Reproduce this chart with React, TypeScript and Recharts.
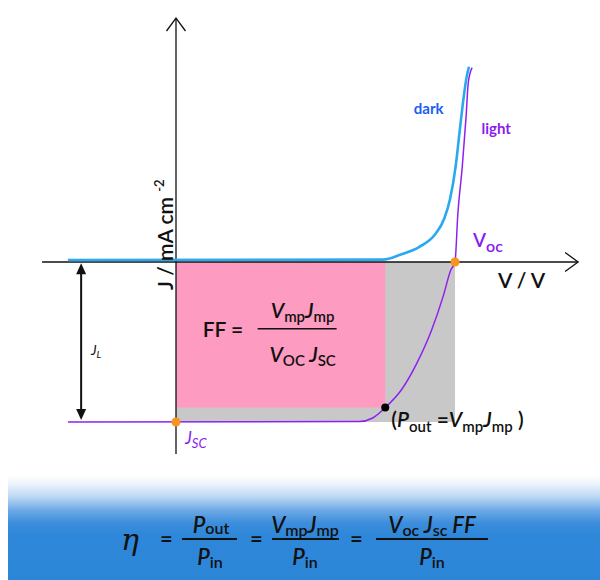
import React from "react";
import {
  ComposedChart,
  Line,
  XAxis,
  YAxis,
  ReferenceArea,
  ReferenceLine,
  ReferenceDot,
} from "recharts";

// J-V curves of the cell, V in volts, J in mA cm^-2
const darkV = [-0.31, 0.594, 0.643, 0.698, 0.742, 0.769, 0.786, 0.802, 0.813, 0.824, 0.832, 0.84];
const darkJ = [0.25, 0.3, 0.9, 1.9, 3.4, 5.4, 7.9, 12.0, 16.2, 20.3, 22.8, 24.4];

const lightV = [-0.31, 0.525, 0.564, 0.6, 0.646, 0.69, 0.733, 0.766, 0.788, 0.8, 0.808, 0.821, 0.832, 0.838, 0.849];
const lightJ = [-20, -19.95, -19.5, -18.2, -16.0, -12.7, -8.5, -4.3, -1.0, 0, 5.9, 12.0, 18.3, 22.4, 24.3];

// key points
const VOC = 0.8;
const JSC = -20;
const VMP = 0.6;
const JMP = -18.2;

const darkData = darkV.map((v, i) => ({ v, j: darkJ[i] }));
const lightData = lightV.map((v, i) => ({ v, j: lightJ[i] }));

const FONT = "Lato, 'Open Sans', sans-serif";
const INK = "#111";
const PURPLE = "#8a1cf0";

const axisArrow = (p: any) => {
  const { x1, y1, x2, y2 } = p;
  const len = Math.hypot(x2 - x1, y2 - y1);
  const ux = (x2 - x1) / len;
  const uy = (y2 - y1) / len;
  const bx = x2 - ux * 13;
  const by = y2 - uy * 13;
  return (
    <g>
      <line x1={x1} y1={y1} x2={x2} y2={y2} stroke={INK} strokeWidth={1.3} />
      <polyline
        points={`${bx - uy * 9.5},${by + ux * 9.5} ${x2},${y2} ${bx + uy * 9.5},${by - ux * 9.5}`}
        fill="none"
        stroke={INK}
        strokeWidth={1.3}
      />
    </g>
  );
};

const doubleArrow = (p: any) => {
  const { x1, y1, x2, y2 } = p;
  const top = Math.min(y1, y2);
  const bot = Math.max(y1, y2);
  return (
    <g fill={INK}>
      <line x1={x1} y1={top + 8} x2={x2} y2={bot - 8} stroke={INK} strokeWidth={2} />
      <polygon points={`${x1},${top} ${x1 - 5},${top + 11} ${x1 + 5},${top + 11}`} />
      <polygon points={`${x2},${bot} ${x2 - 5},${bot - 11} ${x2 + 5},${bot - 11}`} />
    </g>
  );
};

// pieces of a formula: [text, isSubscript, isItalic]
type Piece = [string, boolean, boolean];
function pieces(list: Piece[], subSize: number, drop: number) {
  let cur = 0;
  return list.map(([t, sub, it], k) => {
    const target = sub ? drop : 0;
    const dy = target - cur;
    cur = target;
    return (
      <tspan
        key={k}
        dy={dy || undefined}
        fontSize={sub ? subSize : undefined}
        fontStyle={it ? "italic" : undefined}
      >
        {t}
      </tspan>
    );
  });
}

function Chart() {
  return (
    <ComposedChart
      width={600}
      height={580}
      margin={{ top: 6, right: 5.5, bottom: 14, left: 1.625 }}
    >
      <XAxis type="number" dataKey="v" domain={[-0.5, 1.2]} allowDataOverflow hide />
      <YAxis type="number" domain={[-38, 32]} allowDataOverflow hide />

      <ReferenceArea x1={0} x2={VOC} y1={JSC} y2={0} fill="#c8c8c8" fillOpacity={1} stroke="none" />
      <ReferenceArea x1={0} x2={VMP} y1={JMP} y2={0} fill="#fe9bc0" fillOpacity={1} stroke="none" />

      <ReferenceLine segment={[{ x: -0.384, y: 0 }, { x: 1.153, y: 0 }]} ifOverflow="visible" shape={axisArrow} />
      <ReferenceLine segment={[{ x: 0, y: -24 }, { x: 0, y: 30.5 }]} ifOverflow="visible" shape={axisArrow} />
      <ReferenceLine segment={[{ x: -0.272, y: -0.15 }, { x: -0.272, y: -19.75 }]} ifOverflow="visible" shape={doubleArrow} />

      <Line data={darkData} dataKey="j" type="monotone" stroke="#2aa8f0" strokeWidth={2.6} dot={false} isAnimationActive={false} />
      <Line data={lightData} dataKey="j" type="monotone" stroke="#8d22ee" strokeWidth={1.5} dot={false} isAnimationActive={false} />

      <ReferenceDot x={0} y={JSC} r={4.5} fill="#f7931e" stroke="none" ifOverflow="visible" />
      <ReferenceDot x={VOC} y={0} r={4.5} fill="#f7931e" stroke="none" ifOverflow="visible" />
      <ReferenceDot x={VMP} y={JMP} r={4} fill="#000" stroke="none" ifOverflow="visible" />

      {/* FF formula in the centre of the pink box */}
      <ReferenceDot
        x={VMP / 2}
        y={JMP / 2}
        r={0}
        shape={(p: any) => (
          <g fontFamily={FONT} fill={INK} fontWeight={600}>
            <text x={p.cx - 78} y={p.cy + 2} fontSize={21}>FF =</text>
            <line x1={p.cx - 23} x2={p.cx + 56} y1={p.cy - 6} y2={p.cy - 6} stroke={INK} strokeWidth={1.6} />
            <text x={p.cx + 22} y={p.cy - 17} fontSize={21} textAnchor="middle">
              {pieces([["V", false, true], ["mp", true, false], ["J", false, true], ["mp", true, false]], 15, 4)}
            </text>
            <text x={p.cx + 22} y={p.cy + 27} fontSize={21} textAnchor="middle">
              {pieces([["V", false, true], ["OC", true, false], [" J", false, true], ["SC", true, false]], 15, 4)}
            </text>
          </g>
        )}
      />

      {/* labels */}
      <ReferenceDot
        x={0.682}
        y={18.5}
        r={0}
        shape={(p: any) => (
          <text x={p.cx} y={p.cy} fontFamily={FONT} fontSize={15} fontWeight={700} fill="#1c5ef2">dark</text>
        )}
      />
      <ReferenceDot
        x={0.876}
        y={16}
        r={0}
        shape={(p: any) => (
          <text x={p.cx} y={p.cy} fontFamily={FONT} fontSize={15} fontWeight={700} fill={PURPLE}>light</text>
        )}
      />
      <ReferenceDot
        x={VOC}
        y={0}
        r={0}
        shape={(p: any) => (
          <text x={p.cx + 18} y={p.cy - 15} fontFamily={FONT} fontSize={19} fontWeight={600} fill={PURPLE}>
            {pieces([["V", false, false], ["oc", true, false]], 16, 5)}
          </text>
        )}
      />
      <ReferenceDot
        x={0.923}
        y={-3.25}
        r={0}
        shape={(p: any) => (
          <text x={p.cx} y={p.cy} fontFamily={FONT} fontSize={21} fontWeight={600} fill={INK}>V / V</text>
        )}
      />
      <ReferenceDot
        x={-0.008}
        y={-3.5}
        r={0}
        ifOverflow="visible"
        shape={(p: any) => (
          <text
            x={p.cx}
            y={p.cy}
            transform={`rotate(-90, ${p.cx}, ${p.cy})`}
            fontFamily={FONT}
            fontSize={21}
            fontWeight={600}
            fill={INK}
          >
            {pieces([["J / mA cm ", false, false], ["-2", true, false]], 13, -9)}
          </text>
        )}
      />
      <ReferenceDot
        x={-0.244}
        y={-11.6}
        r={0}
        shape={(p: any) => (
          <text x={p.cx} y={p.cy} fontFamily={FONT} fontSize={14} fontStyle="italic" fill={INK}>
            {pieces([["J", false, true], ["L", true, true]], 10, 3)}
          </text>
        )}
      />
      <ReferenceDot
        x={0}
        y={JSC}
        r={0}
        shape={(p: any) => (
          <text x={p.cx + 9} y={p.cy + 22} fontFamily={FONT} fontSize={17} fontStyle="italic" fill={PURPLE}>
            {pieces([["J", false, true], ["SC", true, true]], 13, 4)}
          </text>
        )}
      />
      <ReferenceDot
        x={VMP}
        y={JMP}
        r={0}
        shape={(p: any) => (
          <text x={p.cx + 6} y={p.cy + 19} fontFamily={FONT} fontSize={21} fontWeight={600} fill={INK}>
            {pieces(
              [
                ["(", false, false],
                ["P", false, true],
                ["out", true, false],
                [" =", false, false],
                ["V", false, true],
                ["mp", true, false],
                ["J", false, true],
                ["mp", true, false],
                [" )", false, false],
              ],
              15,
              5
            )}
          </text>
        )}
      />
    </ComposedChart>
  );
}

function Efficiency() {
  const num = 57;
  const den = 89;
  const bar = 63;
  const eq = 71;
  return (
    <svg width={600} height={104} style={{ position: "absolute", left: 0, top: 476 }}>
      <g fontFamily={FONT} fontWeight={600} fill={INK} fontSize={22}>
        <text x={121} y={74} fontFamily="'DejaVu Serif', serif" fontStyle="italic" fontSize={30} fontWeight={400}>η</text>
        <text x={160} y={eq}>=</text>
        <line x1={182} x2={237} y1={bar} y2={bar} stroke={INK} strokeWidth={1.8} />
        <text x={211} y={num} textAnchor="middle">
          {pieces([["P", false, true], ["out", true, false]], 16, 1)}
        </text>
        <text x={210} y={den} textAnchor="middle">
          {pieces([["P", false, true], ["in", true, false]], 16, 3)}
        </text>
        <text x={250} y={eq}>=</text>
        <line x1={272} x2={339} y1={bar} y2={bar} stroke={INK} strokeWidth={1.8} />
        <text x={305} y={num} textAnchor="middle">
          {pieces([["V", false, true], ["mp", true, false], ["J", false, true], ["mp", true, false]], 16, 3)}
        </text>
        <text x={305} y={den} textAnchor="middle">
          {pieces([["P", false, true], ["in", true, false]], 16, 3)}
        </text>
        <text x={350} y={eq}>=</text>
        <line x1={376} x2={488} y1={bar} y2={bar} stroke={INK} strokeWidth={1.8} />
        <text x={432} y={num} textAnchor="middle">
          {pieces(
            [["V", false, true], ["oc", true, false], ["  J", false, true], ["sc", true, false], [" FF", false, true]],
            16,
            3
          )}
        </text>
        <text x={432} y={den} textAnchor="middle">
          {pieces([["P", false, true], ["in", true, false]], 16, 3)}
        </text>
      </g>
    </svg>
  );
}

export default function App() {
  return (
    <div style={{ position: "absolute", left: 0, top: 0, width: 600, height: 580, background: "#fff", overflow: "hidden" }}>
      <div
        style={{
          position: "absolute",
          left: 8,
          top: 476,
          width: 592,
          height: 104,
          background:
            "linear-gradient(180deg, #ffffff 0%, #eaf2fb 8%, #bcd8f3 20%, #6ca9e6 33%, #3d8edc 45%, #2e87d8 57%, #2c86d8 100%)",
        }}
      />
      <div style={{ position: "absolute", left: 0, top: 0 }}>
        <Chart />
      </div>
      <Efficiency />
    </div>
  );
}
